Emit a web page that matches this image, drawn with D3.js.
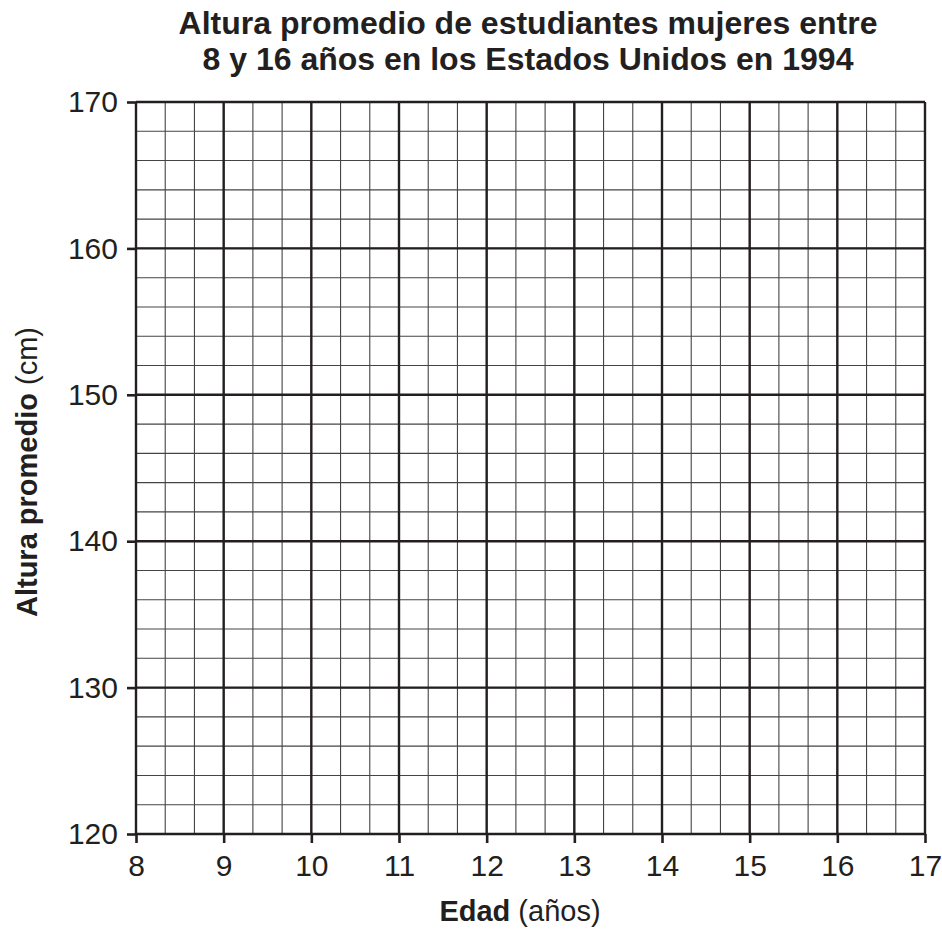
<!DOCTYPE html>
<html>
<head>
<meta charset="utf-8">
<script src="https://cdn.jsdelivr.net/npm/d3@7"></script>
<style>
  body { margin: 0; background: #fff; }
  text { font-family: "Liberation Sans", Arial, sans-serif; fill: #231f20; }
</style>
</head>
<body>
<div id="chart"></div>
<script>
const titleLines = ["Altura promedio de estudiantes mujeres entre", "8 y 16 años en los Estados Unidos en 1994"]
const xDomain = [8, 17]
const yDomain = [120, 170]
const xMajor = [8, 9, 10, 11, 12, 13, 14, 15, 16, 17]
const yMajor = [120, 130, 140, 150, 160, 170]
const xMinorPerMajor = 3
const yMinorStep = 2

const width = 942, height = 932
const margin = { top: 102, right: 17, bottom: 98, left: 136 }

const svg = d3.select("#chart").append("svg")
  .attr("width", width)
  .attr("height", height)

const x = d3.scaleLinear().domain(xDomain).range([margin.left, width - margin.right])
const y = d3.scaleLinear().domain(yDomain).range([height - margin.bottom, margin.top])

// minor grid
const xMinor = d3.range(xDomain[0], xDomain[1] + 1e-9, 1 / xMinorPerMajor)
const yMinor = d3.range(yDomain[0], yDomain[1] + 1e-9, yMinorStep)

const grid = svg.append("g")
grid.selectAll(".vminor").data(xMinor).enter().append("line")
  .attr("x1", d => x(d)).attr("x2", d => x(d))
  .attr("y1", y(yDomain[0])).attr("y2", y(yDomain[1]))
  .attr("stroke", "#444").attr("stroke-width", 1.1)
grid.selectAll(".hminor").data(yMinor).enter().append("line")
  .attr("y1", d => y(d)).attr("y2", d => y(d))
  .attr("x1", x(xDomain[0])).attr("x2", x(xDomain[1]))
  .attr("stroke", "#444").attr("stroke-width", 1.1)

// major grid
grid.selectAll(".vmajor").data(xMajor).enter().append("line")
  .attr("x1", d => x(d)).attr("x2", d => x(d))
  .attr("y1", y(yDomain[0])).attr("y2", y(yDomain[1]))
  .attr("stroke", "#231f20").attr("stroke-width", 2.4)
grid.selectAll(".hmajor").data(yMajor).enter().append("line")
  .attr("y1", d => y(d)).attr("y2", d => y(d))
  .attr("x1", x(xDomain[0])).attr("x2", x(xDomain[1]))
  .attr("stroke", "#231f20").attr("stroke-width", 2.4)

// axes
const xAxis = svg.append("g")
  .attr("transform", `translate(0,${y(yDomain[0])})`)
  .call(d3.axisBottom(x).tickValues(xMajor).tickFormat(d3.format("d")).tickSize(9).tickPadding(12))
const yAxis = svg.append("g")
  .attr("transform", `translate(${x(xDomain[0])},0)`)
  .call(d3.axisLeft(y).tickValues(yMajor).tickFormat(d3.format("d")).tickSize(9).tickPadding(9))

for (const ax of [xAxis, yAxis]) {
  ax.select(".domain").remove()
  ax.selectAll(".tick line").attr("stroke", "#231f20").attr("stroke-width", 2.6)
  ax.selectAll(".tick text")
    .attr("fill", "#231f20")
    .style("font-family", "'Liberation Sans', Arial, sans-serif")
    .style("font-size", "30px")
}

// title
svg.append("g").selectAll("text").data(titleLines).enter().append("text")
  .attr("x", 528)
  .attr("y", (d, i) => 34 + i * 36)
  .attr("text-anchor", "middle")
  .style("font-weight", "bold")
  .style("font-size", "32px")
  .text(d => d)

// x title
const xt = svg.append("text")
  .attr("x", 520).attr("y", 921)
  .attr("text-anchor", "middle")
  .style("font-size", "29px")
xt.append("tspan").style("font-weight", "bold").text("Edad")
xt.append("tspan").text(" (años)")

// y title
const yt = svg.append("text")
  .attr("transform", `translate(37,472) rotate(-90)`)
  .attr("text-anchor", "middle")
  .style("font-size", "29px")
yt.append("tspan").style("font-weight", "bold").text("Altura promedio")
yt.append("tspan").text(" (cm)")
</script>
</body>
</html>
